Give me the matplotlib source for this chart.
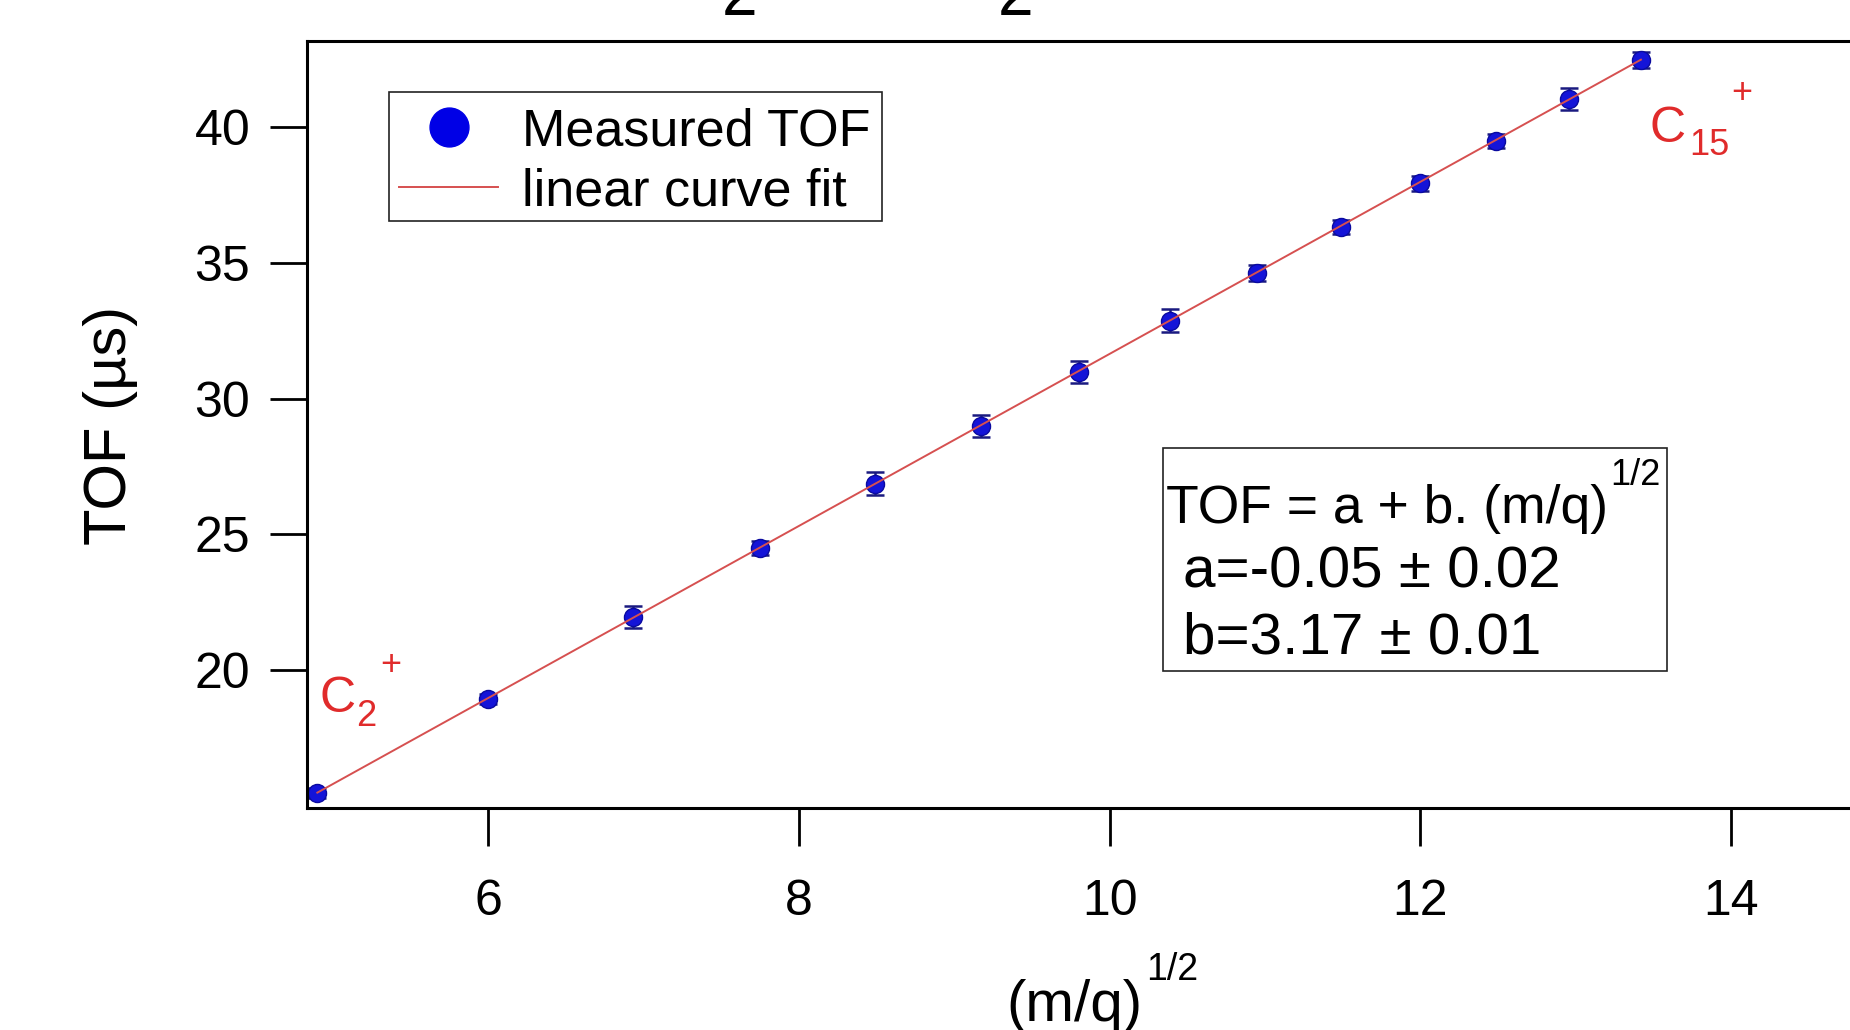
import numpy as np
import matplotlib
matplotlib.use('Agg')
import matplotlib.pyplot as plt
from matplotlib.lines import Line2D
from matplotlib.patches import Rectangle

plt.rcParams['font.family'] = ['Liberation Sans', 'DejaVu Sans']

# (m/q)^1/2 of the C_n+ clusters (n = 2 ... 15) and measured TOF
sqrt_mq = [4.90, 6.00, 6.93, 7.75, 8.49, 9.17, 9.80, 10.39, 10.95, 11.49, 12.00, 12.49, 12.96, 13.42]
tof_us = [15.48, 18.93, 21.96, 24.50, 26.87, 28.98, 30.98, 32.88, 34.63, 36.33, 37.93, 39.49, 41.04, 42.48]
tof_err = [0.18, 0.18, 0.41, 0.25, 0.41, 0.40, 0.41, 0.41, 0.28, 0.25, 0.26, 0.27, 0.41, 0.28]

# linear fit TOF = a + b (m/q)^1/2
fit_a = -0.05
fit_b = 3.17

xticks = [6, 8, 10, 12, 14]
yticks = [20, 25, 30, 35, 40]

blue = '#1414d8'
red = '#e02b2b'

fig = plt.figure(figsize=(18.5, 10.3), dpi=100)
ax = fig.add_axes([0.166, 0.2155, 0.834, 0.7447])

ax.errorbar(sqrt_mq, tof_us, yerr=tof_err, fmt='o', ms=13, mfc=blue, mec='#0a0aa0',
            ecolor='#1a1a80', elinewidth=1.8, capsize=6.5, capthick=1.8, zorder=2)

xs = np.array([min(sqrt_mq), max(sqrt_mq)])
ax.plot(xs, fit_a + fit_b * xs, color='#d65050', lw=1.4, zorder=3)

ax.set_xlim(4.834, 14.766)
ax.set_ylim(14.915, 43.18)
ax.set_xticks(xticks)
ax.set_yticks(yticks)
ax.tick_params(direction='out', length=27, width=2, labelsize=36)
ax.tick_params(axis='x', pad=24)
ax.tick_params(axis='y', pad=14)
ax.spines['right'].set_visible(False)
for s in ['left', 'bottom', 'top']:
    ax.spines[s].set_linewidth(2.2)

# legend (frame drawn separately)
handles = [Line2D([], [], marker='o', ls='none', ms=28, color='#0000e6'),
           Line2D([], [], color='#d65050', lw=1.4)]
ax.legend(handles, ['Measured TOF', 'linear curve fit'], loc='upper left',
          bbox_to_anchor=(0.0531, 0.9274), borderaxespad=0, frameon=False,
          fontsize=37.5, handlelength=1.9, handletextpad=0.45, borderpad=0.2,
          labelspacing=0.22)
ax.add_patch(Rectangle((0.0531, 0.7653), 0.3195, 0.1682, transform=ax.transAxes,
                       fill=False, ec='#222222', lw=1.2, zorder=4))

# fit result box
ax.add_patch(Rectangle((0.5548, 0.1786), 0.3266, 0.2908, transform=ax.transAxes,
                       fill=False, ec='#222222', lw=1.2, zorder=4))
ax.text(0.557, 0.3716, 'TOF = a + b. (m/q)', transform=ax.transAxes, fontsize=38.5,
        va='baseline', ha='left')
ax.text(0.8445, 0.4211, '1/2', transform=ax.transAxes, fontsize=26, va='baseline', ha='left')
ax.text(0.5677, 0.2881, 'a=-0.05 \u00b1 0.02', transform=ax.transAxes, fontsize=42,
        va='baseline', ha='left')
ax.text(0.5677, 0.2021, 'b=3.17 \u00b1 0.01', transform=ax.transAxes, fontsize=42,
        va='baseline', ha='left')

# cluster labels
ax.text(0.0078, 0.1252, 'C', transform=ax.transAxes, color=red, fontsize=36, va='baseline')
ax.text(0.032, 0.1069, '2', transform=ax.transAxes, color=red, fontsize=26, va='baseline')
ax.text(0.0544, 0.1864, '+', transform=ax.transAxes, color=red, fontsize=26, va='center', ha='center')
ax.text(0.8702, 0.8683, 'C', transform=ax.transAxes, color=red, fontsize=36, va='baseline')
ax.text(0.8955, 0.8514, '15', transform=ax.transAxes, color=red, fontsize=26, va='baseline')
ax.text(0.930, 0.9316, '+', transform=ax.transAxes, color=red, fontsize=26, va='center', ha='center')

# axis labels
fig.text(110 / 1850, 1 - 425 / 1030, 'TOF (\u00b5s)', rotation=90, ha='center', va='center', fontsize=43)
fig.text(1074 / 1850, 1 - 1021 / 1030, '(m/q)', ha='center', va='baseline', fontsize=42)
fig.text(1146 / 1850, 1 - 980 / 1030, '1/2', ha='left', va='baseline', fontsize=27)

# cut-off subscripts from the title above the crop
fig.text(722 / 1850, 1 - 15 / 1030, '2', ha='left', va='baseline', fontsize=46)
fig.text(998 / 1850, 1 - 15 / 1030, '2', ha='left', va='baseline', fontsize=46)

fig.savefig('out.png', dpi=100)
